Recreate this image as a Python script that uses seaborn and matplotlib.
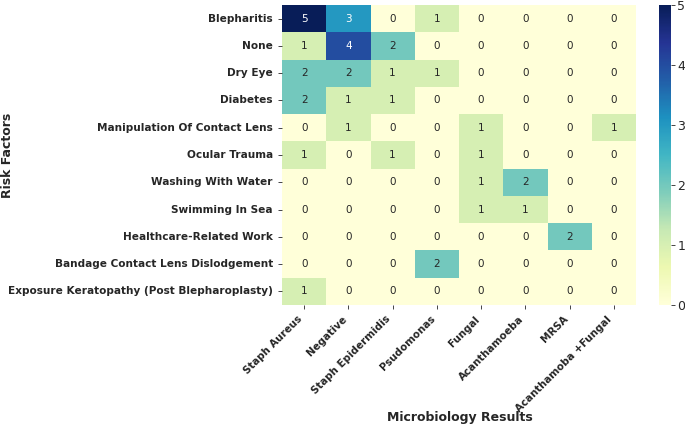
import matplotlib
matplotlib.use("Agg")
import matplotlib.pyplot as plt
import numpy as np
import pandas as pd
import seaborn as sns

risk_factors = [
    "Blepharitis",
    "None",
    "Dry Eye",
    "Diabetes",
    "Manipulation Of Contact Lens",
    "Ocular Trauma",
    "Washing With Water",
    "Swimming In Sea",
    "Healthcare-Related Work",
    "Bandage Contact Lens Dislodgement",
    "Exposure Keratopathy (Post Blepharoplasty)",
]
micro_results = [
    "Staph Aureus", "Negative", "Staph Epidermidis", "Psudomonas",
    "Fungal", "Acanthamoeba", "MRSA", "Acanthamoba +Fungal",
]
counts = [
    [5, 3, 0, 1, 0, 0, 0, 0],
    [1, 4, 2, 0, 0, 0, 0, 0],
    [2, 2, 1, 1, 0, 0, 0, 0],
    [2, 1, 1, 0, 0, 0, 0, 0],
    [0, 1, 0, 0, 1, 0, 0, 1],
    [1, 0, 1, 0, 1, 0, 0, 0],
    [0, 0, 0, 0, 1, 2, 0, 0],
    [0, 0, 0, 0, 1, 1, 0, 0],
    [0, 0, 0, 0, 0, 0, 2, 0],
    [0, 0, 0, 2, 0, 0, 0, 0],
    [1, 0, 0, 0, 0, 0, 0, 0],
]

dark = "#262626"
plt.rcParams.update({
    "text.color": dark, "axes.labelcolor": dark,
    "xtick.color": dark, "ytick.color": dark,
})

df = pd.DataFrame(counts, index=risk_factors, columns=micro_results)

W, H = 685, 425
fig = plt.figure(figsize=(W / 100, H / 100), dpi=100)
ax = fig.add_axes([282 / W, 1 - 305 / H, (636 - 282) / W, 300 / H])
cax = fig.add_axes([659 / W, 1 - 305 / H, 12 / W, 300 / H])
sns.heatmap(df, annot=True, cmap="YlGnBu", vmin=0, vmax=5, ax=ax, cbar_ax=cax,
            annot_kws={"fontsize": 7.5})
ax.set_xlabel("Microbiology Results", fontsize=9, fontweight="bold")
ax.set_ylabel("Risk Factors", fontsize=9, fontweight="bold")
ax.xaxis.set_label_coords(0.503, -0.353)
ax.yaxis.set_label_coords(-0.757, 0.5)
plt.setp(ax.get_xticklabels(), rotation=45, ha="right",
         fontsize=7.4, fontweight="bold")
plt.setp(ax.get_yticklabels(), rotation=0, fontsize=7.6, fontweight="bold")
ax.tick_params(length=3, width=0.6, colors=dark)
cax.tick_params(labelsize=9, length=3, width=0.6, pad=1.5)

fig.savefig("out.png", dpi=100)
